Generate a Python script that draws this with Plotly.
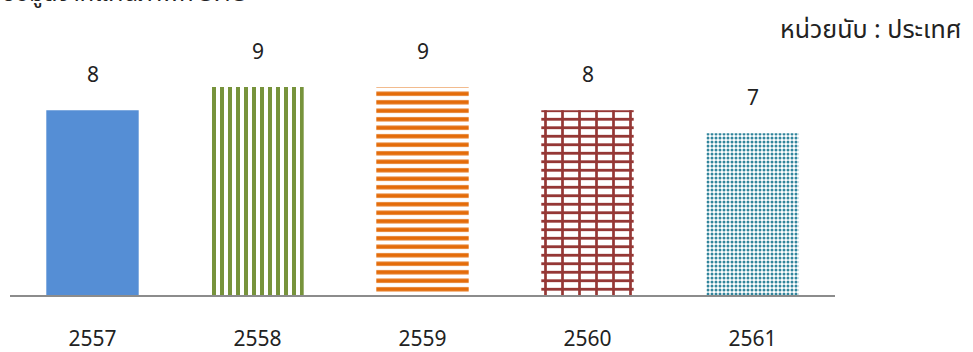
import plotly.graph_objects as go

years = ["2557", "2558", "2559", "2560", "2561"]
values = [8, 9, 9, 8, 7]
labels = ["8", "9", "9", "8", "7"]
colors = ["#558ED5", "#77933C", "#E46C0A", "#953735", "#31859C"]
shapes = ["", "|", "-", "-", "."]
unit_text = "หน่วยนับ : ประเทศ"
top_text = "ข้อมูลจากแผนภาพที่ 3.13"

FONT = "Noto Sans, Noto Sans Thai, Tahoma, sans-serif"
psize = [8, 8, 8.5, 8.5, 4]
psolid = [0.5, 0.5, 0.5, 0.33, 0.45]
idx = list(range(len(years)))

fig = go.Figure()
for i, v in zip(idx, values):
    if shapes[i] == "":
        marker = dict(color=colors[i], line=dict(width=0))
    else:
        marker = dict(color=colors[i], line=dict(width=0),
                      pattern=dict(shape=shapes[i], fgcolor=colors[i], bgcolor="white",
                                   size=psize[i], solidity=psolid[i], fillmode="replace"))
    fig.add_trace(go.Bar(x=[i], y=[v], width=0.56, marker=marker, hoverinfo="skip"))

# vertical brick joints for 2560
fig.add_trace(go.Bar(
    x=[idx[3]], y=[values[3]], width=0.56,
    marker=dict(
        color=colors[3],
        line=dict(width=0),
        pattern=dict(shape="|", fgcolor=colors[3], bgcolor="rgba(0,0,0,0)",
                     size=17, solidity=0.16, fillmode="replace"),
    ),
    hoverinfo="skip",
))

for i, v, t in zip(idx, values, labels):
    fig.add_annotation(x=i, y=v, text=t, showarrow=False, yanchor="bottom",
                       yshift=20, font=dict(size=21, color="#222", family=FONT))

fig.add_annotation(xref="paper", yref="paper", x=1.155, y=1.158, xanchor="right",
                   yanchor="middle", text=unit_text, showarrow=False,
                   font=dict(size=25, color="#222", family=FONT))
fig.add_annotation(xref="paper", yref="paper", x=-0.012, y=1.315, xanchor="left",
                   yanchor="middle", text=top_text, showarrow=False,
                   font=dict(size=24, color="#222", family=FONT))

fig.update_layout(
    width=973, height=352,
    margin=dict(l=10, r=138, t=64, b=57),
    barmode="overlay",
    showlegend=False,
    plot_bgcolor="white", paper_bgcolor="white",
    xaxis=dict(range=[-0.5, 4.5], tickmode="array", tickvals=idx, ticktext=years,
               showline=True, linecolor="#8c8c8c", linewidth=2, automargin=False,
               ticks="outside", ticklen=24, tickcolor="rgba(0,0,0,0)",
               tickfont=dict(size=21, color="#222", family=FONT),
               showgrid=False, zeroline=False),
    yaxis=dict(range=[0, 10], visible=False, showgrid=False, zeroline=False),
)

fig.write_html("out.html", config={"displayModeBar": False},
               post_script="document.body.style.margin='0';")
